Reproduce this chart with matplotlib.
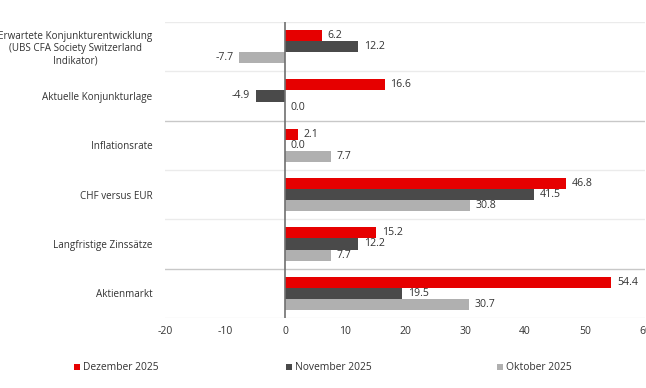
import matplotlib.pyplot as plt
import numpy as np

plt.rcParams['font.family'] = ['Open Sans', 'DejaVu Sans']

categories = ['Erwartete Konjunkturentwicklung\n(UBS CFA Society Switzerland\nIndikator)',
              'Aktuelle Konjunkturlage', 'Inflationsrate', 'CHF versus EUR',
              'Langfristige Zinssätze', 'Aktienmarkt']
dezember = [6.2, 16.6, 2.1, 46.8, 15.2, 54.4]
november = [12.2, -4.9, 0.0, 41.5, 12.2, 19.5]
oktober = [-7.7, 0.0, 7.7, 30.8, 7.7, 30.7]
series_names = ['Dezember 2025', 'November 2025', 'Oktober 2025']
colors = ['#e60000', '#4a4a4a', '#b0b0b0']
xticks = [-20, -10, 0, 10, 20, 30, 40, 50, 60]

fig = plt.figure(figsize=(6.46, 3.88), dpi=100)
W, H = 646, 388
ax = fig.add_axes([165 / W, 1 - 318 / H, 480 / W, 296 / H])

y = np.arange(len(categories))
h = 0.223
txt = '#333333'
bars = []
for i, (vals, col, name) in enumerate(zip([dezember, november, oktober], colors, series_names)):
    b = ax.barh(y + (i - 1) * h, vals, height=h, color=col, label=name, zorder=2)
    ax.bar_label(b, fmt='%.1f', padding=4, fontsize=7.6, color=txt)
    bars.append(b)

ax.set_xlim(-20, 60)
ax.set_ylim(len(categories) - 0.5, -0.5)
ax.set_xticks(xticks)
ax.set_xticklabels([str(t) for t in xticks])
ax.set_yticks(y)
ax.set_yticklabels(categories, fontsize=7.1, color=txt, linespacing=1.15,
                   multialignment='center')
ax.tick_params(axis='x', length=0, labelsize=7.5, labelcolor=txt, pad=6)
ax.tick_params(axis='y', length=0, pad=9)
for s in ax.spines.values():
    s.set_visible(False)

# category separators
for k in range(len(categories) + 1):
    c = '#c8c8c8' if k in (2, 5) else '#ebebeb'
    ax.axhline(k - 0.5, color=c, lw=1, zorder=1)
ax.axvline(0, color='#707070', lw=1.2, zorder=3)

# legend
for b, xpos in zip(bars, [74, 286, 497]):
    fig.legend(handles=[b], loc='center left', bbox_to_anchor=(xpos / W, 1 - 368 / H),
               frameon=False, fontsize=7.4, handlelength=0.6, handleheight=0.6,
               handletextpad=0.3, borderaxespad=0, borderpad=0, labelcolor=txt)

fig.savefig('out.png', dpi=100)
